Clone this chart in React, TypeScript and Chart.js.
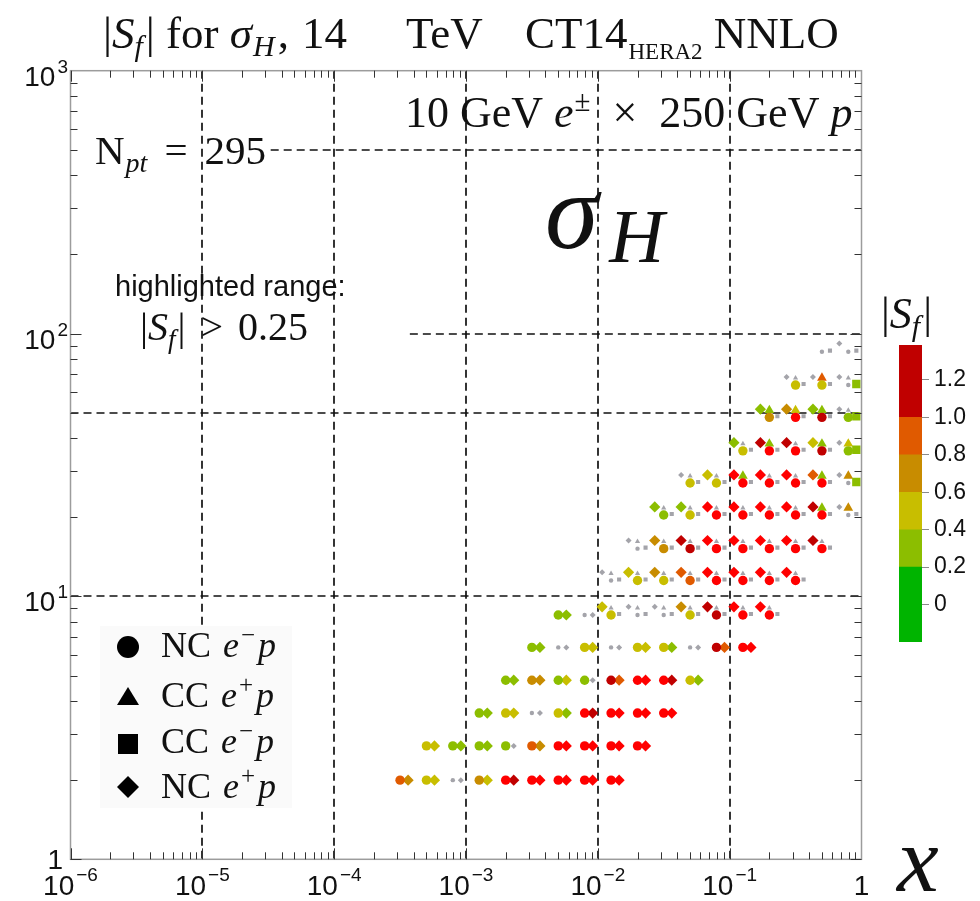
import React, { useEffect, useRef } from 'react';
import { Chart, registerables } from 'chart.js';

Chart.register(...registerables);

// ---------------- data ----------------
// x bins (momentum fraction) shared by all rows
const X_BINS = [3.16e-4, 5.01e-4, 7.94e-4, 1.26e-3, 2.0e-3, 3.16e-3, 5.01e-3, 7.94e-3, 1.26e-2, 2.0e-2,
  3.16e-2, 5.01e-2, 7.94e-2, 0.126, 0.2, 0.316, 0.501, 0.794];
// Q rows [GeV]
const Q_BINS = [2.0, 2.7, 3.6, 4.8, 6.4, 8.5, 11.5, 15.2, 20.4, 27, 35.8, 48, 63.7, 85.3];
// first x-bin index used in each Q row
const ROW_START = [0, 1, 3, 4, 5, 6, 8, 9, 10, 11, 13, 14, 15, 16];
const _ = null;
// |S_f| per row, per x bin (from ROW_START on)
const NC_EM_P = [
  [0.9, 0.5, 0.1, 0.7, 1.6, 1.6, 1.6, 1.6, 1.6],
  [0.5, 0.32, 0.32, 0.32, 0.9, 1.6, 1.6, 1.6, 1.6],
  [0.32, 0.5, 0.12, 0.5, 1.6, 1.6, 1.6, 1.6],
  [0.32, 0.7, 0.32, 0.32, 1.1, 1.6, 1.6, 0.5],
  [0.32, 0.1, 0.5, 0.15, 0.5, 0.5, 0.1, 1.1, 1.6],
  [0.32, 0.1, 0.5, 0.15, 0.1, 0.5, 1.1, 1.6, 1.6],
  [0.1, 0.5, 0.5, 0.9, 1.6, 1.6, 1.6, 1.6],
  [0.1, 0.7, 1.1, 1.6, 1.6, 1.6, 1.6, 1.6],
  [0.32, 0.5, 1.6, 1.6, 1.6, 1.6, 1.6, 0.15],
  [0.5, 0.5, 1.6, 1.6, 1.6, 1.6, 0.15],
  [0.5, 1.6, 1.6, 1.1, 0.32],
  [0.7, 1.6, 1.1, 0.32],
  [0.5, 0.5, 0.1],
  [0.1, 0.1],
];
const NC_EP_P = [
  [0.7, 0.5, 0.1, 0.5, 1.1, 1.6, 1.6, 1.6, 1.6],
  [0.5, 0.32, 0.32, 0.1, 0.7, 1.6, 1.6, 1.6, 1.6],
  [0.32, 0.5, 0.12, 0.32, 1.1, 1.6, 1.6, 1.6],
  [0.32, 0.7, 0.5, 0.1, 0.9, 1.6, 1.1, 0.32],
  [0.32, 0.1, 0.5, 0.15, 0.5, 0.32, 0.1, 0.9, 1.6],
  [0.32, 0.1, 0.5, 0.1, 0.1, 0.7, 1.1, 1.6, 1.6],
  [0.1, 0.5, 0.7, 0.9, 1.6, 1.6, 1.6, 1.6],
  [0.1, 0.7, 1.1, 1.6, 1.6, 1.6, 1.6, 1.1],
  [0.32, 0.32, 1.6, 1.6, 1.6, 1.6, 1.1, 0.1],
  [0.1, 0.5, 1.6, 1.6, 1.6, 0.9, 0.1],
  [0.32, 1.1, 1.1, 0.5, 0.1],
  [0.32, 0.7, 0.32, 0.1],
  [0.1, 0.1, 0.1],
  [_, 0.1],
];
const CC_EP_P = [
  [], [], [], [], [],
  [_, _, 0.1, 0.1, 0.1, 0.1, 0.1, 0.1, 0.1],
  [0.1, 0.1, 0.1, 0.1, 0.1, 0.1, 0.1, 0.1],
  [0.1, 0.1, 0.1, 0.1, 0.1, 0.1, 0.1, 0.1],
  [0.1, 0.1, 0.1, 0.1, 0.1, 0.1, 0.32, 0.7],
  [0.1, 0.1, 0.32, 0.1, 0.1, 0.32, 0.7],
  [0.1, 0.32, 0.1, 0.32, 0.5],
  [0.32, 0.5, 0.32, 0.1],
  [0.1, 0.9, 0.1],
  [_, _],
];
const CC_EM_P = [
  [], [], [], [], [],
  [_, _, 0.1, 0.1, 0.1, 0.1, 0.1, 0.1, 0.1],
  [0.1, 0.1, 0.1, 0.1, 0.1, 0.1, 0.1, 0.1],
  [0.1, 0.1, 0.1, 0.1, 0.1, 0.1, 0.1, 0.1],
  [0.1, 0.1, 0.1, 0.1, 0.1, 0.1, 0.1, 0.1],
  [0.1, 0.1, 0.1, 0.1, 0.1, 0.1, 0.32],
  [0.1, 0.1, 0.1, 0.1, 0.32],
  [0.1, 0.1, 0.1, 0.32],
  [0.1, 0.1, 0.32],
  [0.1, 0.1],
];
const THRESHOLD = 0.25;
const N_PT = 295;
const COLOR_EDGES = [-0.2, 0.2, 0.4, 0.6, 0.8, 1.0, 1.387];
const COLORBAR_TICKS = [0, 0.2, 0.4, 0.6, 0.8, 1.0, 1.2];
const X_TICK_EXP = [-6, -5, -4, -3, -2, -1, 0];
const Y_TICK_EXP = [0, 1, 2, 3];
const V_GRID = [1e-5, 1e-4, 1e-3, 1e-2, 1e-1];
const H_GRID = [10, 50, 100, 500];

// ---------------- style ----------------
const LEVEL_COLORS = ['#00b400', '#8cbe00', '#c8be00', '#c88c00', '#e05a00', '#c00000'];
const OVER_COLOR = '#ff0000';
const GRAY = '#a4a4aa';
const H_GRID_FROM = [1e-6, 1e-6, 3.75e-4, 3.3e-5];
const SERIF = '"Liberation Serif", "Times New Roman", serif';
const SANS = '"Liberation Sans", Arial, Helvetica, sans-serif';
// marker offsets inside a cluster, in decades
const OFF = {
  diamondCluster: [-0.068, 0.031],
  diamondPair: [0.061, 0],
  triangle: [0, 0.027],
  square: [0.061, 0.004],
};

function colorFor(s: number): string {
  if (s <= THRESHOLD) return GRAY;
  if (s > COLOR_EDGES[COLOR_EDGES.length - 1]) return OVER_COLOR;
  for (let i = 1; i < COLOR_EDGES.length; i++) if (s < COLOR_EDGES[i]) return LEVEL_COLORS[i - 1];
  return LEVEL_COLORS[LEVEL_COLORS.length - 1];
}

type Pt = { x: number; y: number; s: number };

function buildSets() {
  const sets: Record<string, { hi: Pt[]; lo: Pt[] }> = {
    circle: { hi: [], lo: [] }, diamond: { hi: [], lo: [] }, triangle: { hi: [], lo: [] }, square: { hi: [], lo: [] },
  };
  const push = (key: string, v: number | null | undefined, x: number, y: number, off: number[]) => {
    if (v == null) return;
    const p = { x: x * Math.pow(10, off[0]), y: y * Math.pow(10, off[1]), s: v };
    (v > THRESHOLD ? sets[key].hi : sets[key].lo).push(p);
  };
  for (let i = 0; i < Q_BINS.length; i++) {
    const n = Math.max(NC_EM_P[i].length, NC_EP_P[i].length, CC_EP_P[i].length, CC_EM_P[i].length);
    for (let j = 0; j < n; j++) {
      const xb = X_BINS[ROW_START[i] + j];
      const qb = Q_BINS[i];
      const hasCC = CC_EP_P[i][j] != null || CC_EM_P[i][j] != null;
      push('circle', NC_EM_P[i][j], xb, qb, [0, 0]);
      push('diamond', NC_EP_P[i][j], xb, qb, hasCC ? OFF.diamondCluster : OFF.diamondPair);
      push('triangle', CC_EP_P[i][j], xb, qb, OFF.triangle);
      push('square', CC_EM_P[i][j], xb, qb, OFF.square);
    }
  }
  return sets;
}

type Seg = [string, string, number?, number?];
const sf = (size: number, it = false) => `${it ? 'italic ' : ''}${size}px ${SERIF}`;
function rich(ctx: CanvasRenderingContext2D, x: number, y: number, segs: Seg[]) {
  let cx = x;
  for (const [t, f, dy = 0, dx = 0] of segs) {
    ctx.font = f;
    cx += dx;
    ctx.fillText(t, cx, y + dy);
    cx += ctx.measureText(t).width;
  }
  return cx;
}

const decorPlugin = {
  id: 'decor',
  beforeDatasetsDraw(chart: any) {
    const { ctx, chartArea: a } = chart;
    const xs = chart.scales.x, ys = chart.scales.y;
    ctx.save();
    // dashed grid
    ctx.setLineDash([8, 5]);
    ctx.lineWidth = 1.7;
    ctx.strokeStyle = '#111';
    for (const v of V_GRID) {
      const px = Math.round(xs.getPixelForValue(v));
      ctx.beginPath(); ctx.moveTo(px, a.top); ctx.lineTo(px, a.bottom); ctx.stroke();
    }
    H_GRID.forEach((q, i) => {
      const py = Math.round(ys.getPixelForValue(q));
      ctx.beginPath(); ctx.moveTo(xs.getPixelForValue(H_GRID_FROM[i]), py); ctx.lineTo(a.right, py); ctx.stroke();
    });
    ctx.setLineDash([]);

    // texts
    ctx.fillStyle = '#111';
    ctx.textBaseline = 'alphabetic';
    ctx.textAlign = 'left';
    // title
    rich(ctx, 103, 48, [['|', sf(45)], ['S', sf(45, true)], ['f', sf(30, true), 8], ['|', sf(45), 0, 3],
      [' for ', sf(45)], ['σ', sf(45, true)], ['H', sf(30, true), 8, 1], [',', sf(45), 0, 3]]);
    rich(ctx, 302, 48, [['14', sf(45)]]);
    rich(ctx, 406, 48, [['TeV', sf(45)]]);
    rich(ctx, 525, 48, [['CT14', sf(45)], ['HERA2', sf(23), 11, 1], [' NNLO', sf(45)]]);
    // beam setup
    rich(ctx, 405, 127, [['10 GeV ', sf(44)], ['e', sf(44, true)], ['±', sf(29), -16, 1], ['  ×  250 GeV ', sf(44)], ['p', sf(44, true)]]);
    // N_pt
    rich(ctx, 95, 164, [['N', sf(41)], ['pt', sf(28, true), 8, 1], ['=', sf(41), 0, 17], [String(N_PT), sf(41), 0, 17]]);
    // sigma_H
    rich(ctx, 545, 248, [['σ', sf(108, true)], ['H', sf(76, true), 14, 11]]);
    // highlighted range
    ctx.font = `29px ${SANS}`;
    ctx.fillText('highlighted range:', 115, 296);
    rich(ctx, 140, 340, [['|', sf(40)], ['S', sf(40, true)], ['f', sf(27, true), 8], ['|', sf(40), 0, 2],
      ['>', sf(40), 0, 15], [THRESHOLD.toFixed(2), sf(40), 0, 15]]);
    // colorbar title
    rich(ctx, 881, 328, [['|', sf(44)], ['S', sf(44, true)], ['f', sf(30, true), 8], ['|', sf(44), 0, 3]]);
    // axis title
    rich(ctx, 897, 891, [['x', sf(94, true)]]);

    // legend box
    ctx.fillStyle = '#fafafa';
    ctx.fillRect(100, 626, 192, 182);
    ctx.fillStyle = '#000';
    const lx = 128;
    ctx.beginPath(); ctx.arc(lx, 647, 11, 0, Math.PI * 2); ctx.fill();
    ctx.beginPath(); ctx.moveTo(lx, 687); ctx.lineTo(lx + 11, 705); ctx.lineTo(lx - 11, 705); ctx.closePath(); ctx.fill();
    ctx.fillRect(lx - 10, 734, 20, 20);
    ctx.beginPath(); ctx.moveTo(lx, 776); ctx.lineTo(lx + 11, 787); ctx.lineTo(lx, 798); ctx.lineTo(lx - 11, 787); ctx.closePath(); ctx.fill();
    ctx.fillStyle = '#111';
    const legendRows: [string, string, number][] = [['NC', '−', 657], ['CC', '+', 707], ['CC', '−', 753], ['NC', '+', 798]];
    for (const [p, c, y] of legendRows) {
      rich(ctx, 161, y, [[p, sf(36)], ['e', sf(36, true), 0, 12], [c, sf(25), -14, 2], ['p', sf(36, true), 0, 3]]);
    }
    ctx.restore();
  },
  afterDatasetsDraw(chart: any) {
    const { ctx, chartArea: a } = chart;
    const xs = chart.scales.x, ys = chart.scales.y;
    ctx.save();
    // frame
    ctx.strokeStyle = '#9c9c9c';
    ctx.lineWidth = 1.5;
    ctx.strokeRect(a.left, a.top, a.right - a.left, a.bottom - a.top);
    // ticks
    ctx.strokeStyle = '#333';
    ctx.lineWidth = 1;
    for (let e = X_TICK_EXP[0]; e < X_TICK_EXP[X_TICK_EXP.length - 1]; e++) {
      for (let m = 1; m < 10; m++) {
        const px = Math.round(xs.getPixelForValue(m * Math.pow(10, e))) + 0.5;
        const len = m === 1 ? 11 : 7;
        ctx.beginPath();
        ctx.moveTo(px, a.bottom); ctx.lineTo(px, a.bottom - len);
        ctx.moveTo(px, a.top); ctx.lineTo(px, a.top + len);
        ctx.stroke();
      }
    }
    for (let e = Y_TICK_EXP[0]; e < Y_TICK_EXP[Y_TICK_EXP.length - 1]; e++) {
      for (let m = 1; m < 10; m++) {
        const py = Math.round(ys.getPixelForValue(m * Math.pow(10, e))) + 0.5;
        const len = m === 1 ? 11 : 7;
        ctx.beginPath();
        ctx.moveTo(a.left, py); ctx.lineTo(a.left + len, py);
        ctx.moveTo(a.right, py); ctx.lineTo(a.right - len, py);
        ctx.stroke();
      }
    }
    // tick labels
    ctx.fillStyle = '#111';
    const base = `28px ${SANS}`, sup = `19px ${SANS}`;
    for (const e of X_TICK_EXP) {
      const px = xs.getPixelForValue(Math.pow(10, e));
      if (e === 0) {
        ctx.font = base; ctx.textAlign = 'center'; ctx.fillText('1', px, 895); continue;
      }
      ctx.textAlign = 'left';
      ctx.font = base; const w1 = ctx.measureText('10').width;
      const st = '−' + Math.abs(e);
      ctx.font = sup; const w2 = ctx.measureText(st).width;
      const x0 = px - (w1 + w2 + 2) / 2;
      ctx.font = base; ctx.fillText('10', x0, 895);
      ctx.font = sup; ctx.fillText(st, x0 + w1 + 2, 881);
    }
    for (const e of Y_TICK_EXP) {
      const py = ys.getPixelForValue(Math.pow(10, e));
      ctx.textAlign = 'right';
      if (e === 0) { ctx.font = base; ctx.fillText('1', 63, py + 10); continue; }
      ctx.font = sup; const w2 = ctx.measureText(String(e)).width;
      ctx.fillText(String(e), 68, py + 2);
      ctx.font = base; ctx.fillText('10', 68 - w2 - 2, py + 15);
    }
    ctx.restore();
  },
};

export default function App() {
  const mainRef = useRef<HTMLCanvasElement>(null);
  const cbRef = useRef<HTMLCanvasElement>(null);

  useEffect(() => {
    const sets = buildSets();
    const spec: [string, string, number, number][] = [
      ['circle', 'circle', 4.7, 2.2],
      ['square', 'rect', 5.9, 2.9],
      ['diamond', 'rectRot', 5.6, 3.0],
      ['triangle', 'triangle', 5.6, 3.0],
    ];
    const datasets: any[] = [];
    for (const [key, style, , rs] of spec) {
      const d = sets[key].lo;
      datasets.push({ label: key + ' low', data: d, pointStyle: style, pointRadius: rs, pointBorderWidth: 0,
        backgroundColor: d.map((p) => colorFor(p.s)), borderWidth: 0 });
    }
    for (const [key, style, rb] of spec) {
      const d = sets[key].hi;
      datasets.push({ label: key, data: d, pointStyle: style, pointRadius: rb, pointBorderWidth: 0,
        backgroundColor: d.map((p) => colorFor(p.s)), borderWidth: 0 });
    }

    const main = new Chart(mainRef.current as HTMLCanvasElement, {
      type: 'scatter',
      data: { datasets },
      options: {
        responsive: false,
        animation: false,
        devicePixelRatio: 1,
        layout: { padding: { left: 70.5, right: 118.5, top: 70.7, bottom: 41.7 } },
        plugins: { legend: { display: false }, tooltip: { enabled: false } },
        scales: {
          x: { type: 'logarithmic', min: 1e-6, max: 1, display: false },
          y: { type: 'logarithmic', min: 1, max: 1000, display: false },
        },
      } as any,
      plugins: [decorPlugin as any],
    });

    const cb = new Chart(cbRef.current as HTMLCanvasElement, {
      type: 'bar',
      data: {
        labels: [''],
        datasets: LEVEL_COLORS.map((c, i) => ({
          data: [[COLOR_EDGES[i], COLOR_EDGES[i + 1]]],
          backgroundColor: c,
          borderWidth: 0,
          grouped: false,
          barPercentage: 1,
          categoryPercentage: 1,
        })) as any,
      },
      options: {
        responsive: false,
        animation: false,
        devicePixelRatio: 1,
        layout: { padding: { left: 899, right: 0, top: 345, bottom: 259 } },
        plugins: { legend: { display: false }, tooltip: { enabled: false } },
        scales: {
          x: { display: false },
          y: {
            position: 'right',
            min: COLOR_EDGES[0],
            max: COLOR_EDGES[COLOR_EDGES.length - 1],
            afterBuildTicks: (s: any) => { s.ticks = COLORBAR_TICKS.map((v) => ({ value: v })); },
            afterFit: (s: any) => { s.width = 58; },
            grid: { drawOnChartArea: false, tickLength: 7, color: '#8a8a8a', lineWidth: 1 },
            border: { display: false },
            ticks: {
              padding: 5,
              color: '#111',
              font: { family: SANS, size: 23 },
              callback: (v: any) => (Number(v) === 0 ? '0' : Number(v).toFixed(1)),
            },
          },
        },
      } as any,
    });

    return () => { main.destroy(); cb.destroy(); };
  }, []);

  return (
    <div style={{ position: 'absolute', left: 0, top: 0, width: 980, height: 901, background: '#fff' }}>
      <canvas ref={mainRef} width={980} height={901} style={{ position: 'absolute', left: 0, top: 0 }} />
      <canvas ref={cbRef} width={980} height={901} style={{ position: 'absolute', left: 0, top: 0, pointerEvents: 'none' }} />
    </div>
  );
}
